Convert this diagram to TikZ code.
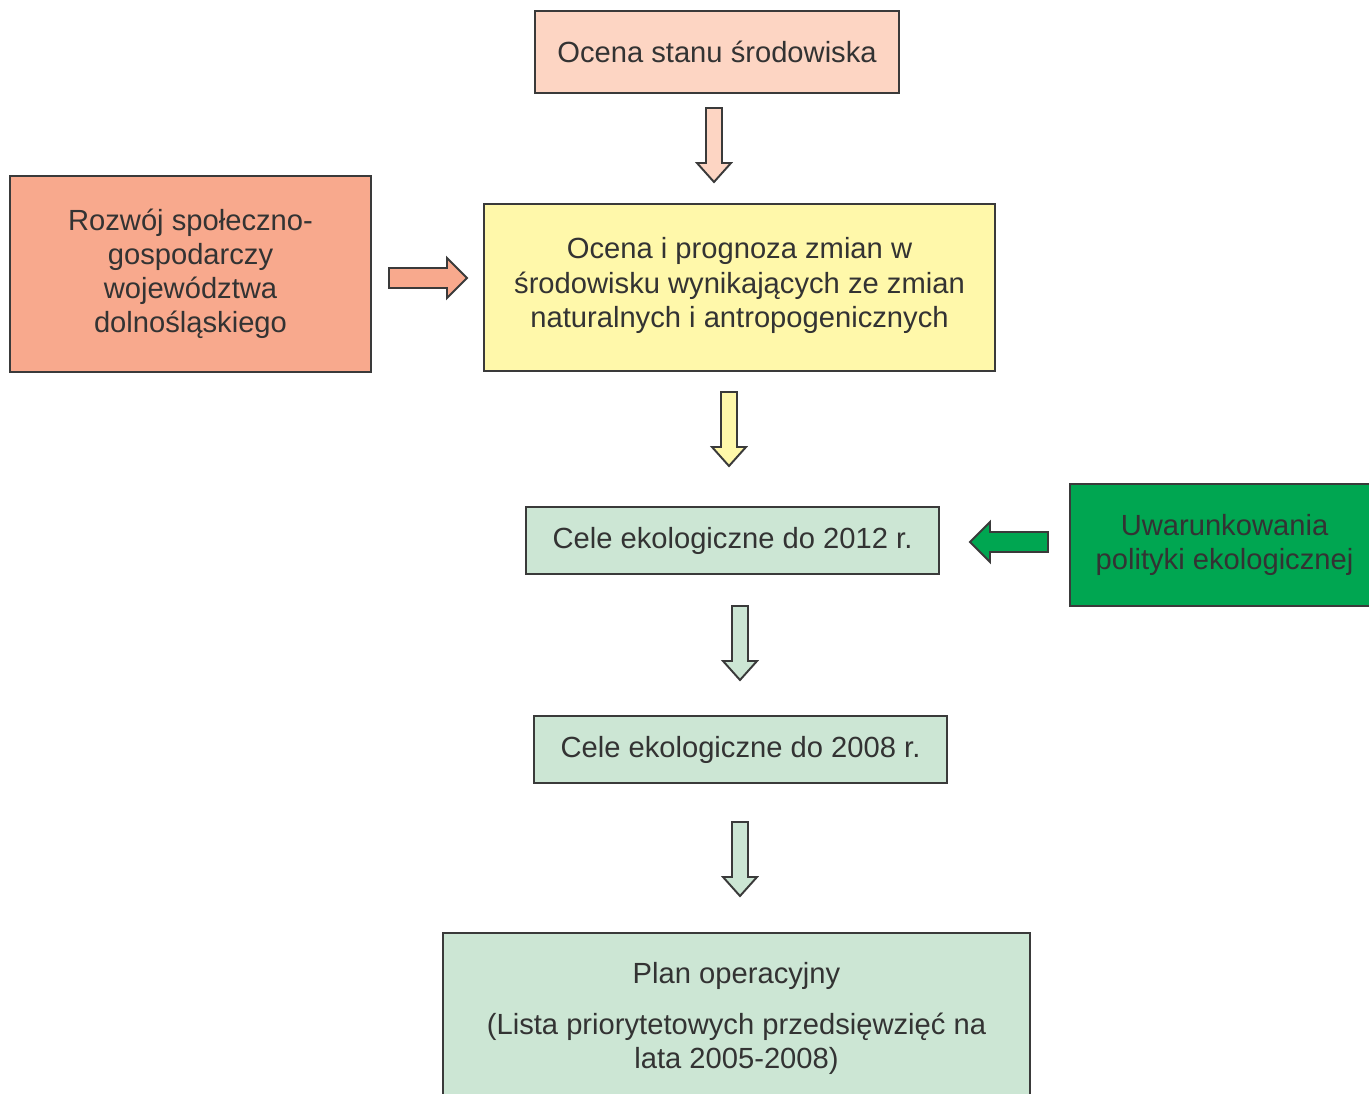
\documentclass[tikz,border=0pt]{standalone}
\usepackage{fontspec}
\setmainfont{Liberation Sans}
\definecolor{peachlight}{HTML}{FDD5C3}
\definecolor{salmon}{HTML}{F8A98D}
\definecolor{paleyellow}{HTML}{FFF8AA}
\definecolor{palegreen}{HTML}{CCE6D4}
\definecolor{deepgreen}{HTML}{00A651}
\definecolor{linegray}{HTML}{3A3A3A}
\definecolor{textgray}{HTML}{333333}
\tikzset{
  box/.style={draw=linegray, line width=1.1pt, text=textgray, align=center,
    inner sep=0pt, font=\fontsize{16.6}{19.4}\selectfont},
  blockarrow/.style={draw=linegray, line width=1.1pt, line join=miter},
  pics/downarrow/.style={code={
    \path[pic actions] (-8,0) -- (8,0) -- (8,55) -- (17,55) -- (0,74)
      -- (-17,55) -- (-8,55) -- cycle;}},
  pics/rightarrow/.style={code={
    \path[pic actions] (0,-10) -- (58,-10) -- (58,-20) -- (78,0)
      -- (58,20) -- (58,10) -- (0,10) -- cycle;}},
}
\begin{document}
\begin{tikzpicture}[x=0.02cm, y=-0.02cm]
    \useasboundingbox (0,0) rectangle (1369,1093);
    \clip (0,0) rectangle (1369,1093);

    % boxes
    \node (stan) [box, fill=peachlight, minimum width=7.28cm, minimum height=1.64cm]
        at (717,52) {Ocena stanu środowiska};
    \node (rozwoj) [box, fill=salmon, minimum width=7.22cm, minimum height=3.92cm]
        at (190.5,274) {Rozwój społeczno-\\gospodarczy\\województwa\\dolnośląskiego};
    \node (prognoza) [box, fill=paleyellow, minimum width=10.22cm, minimum height=3.34cm]
        at (739.5,287.5) {Ocena i prognoza zmian w\\środowisku wynikających ze zmian\\naturalnych i antropogenicznych\rule[-0.2cm]{0pt}{0pt}};
    \node (cele12) [box, fill=palegreen, minimum width=8.26cm, minimum height=1.34cm]
        at (732.5,540.5) {Cele ekologiczne do 2012 r.};
    \node (uwar) [box, fill=deepgreen, minimum width=6.18cm, minimum height=2.44cm]
        at (1224.5,545) {Uwarunkowania\\polityki ekologicznej};
    \node (cele08) [box, fill=palegreen, minimum width=8.26cm, minimum height=1.34cm]
        at (740.5,749.5) {Cele ekologiczne do 2008 r.};
    \node (plan) [box, fill=palegreen, minimum width=11.74cm, minimum height=3.42cm]
        at (736.5,1018.5) {Plan operacyjny\\[0.32cm](Lista priorytetowych przedsięwzięć na\\lata 2005-2008)};

    % block arrows
    \pic[blockarrow, fill=peachlight] at (714,108) {downarrow};
    \pic[blockarrow, fill=salmon] at (389,278) {rightarrow};
    \pic[blockarrow, fill=paleyellow] at (729,392) {downarrow};
    \pic[blockarrow, fill=deepgreen, rotate=180] at (1048,542) {rightarrow};
    \pic[blockarrow, fill=palegreen] at (740,606) {downarrow};
    \pic[blockarrow, fill=palegreen] at (740,822) {downarrow};
\end{tikzpicture}
\end{document}
